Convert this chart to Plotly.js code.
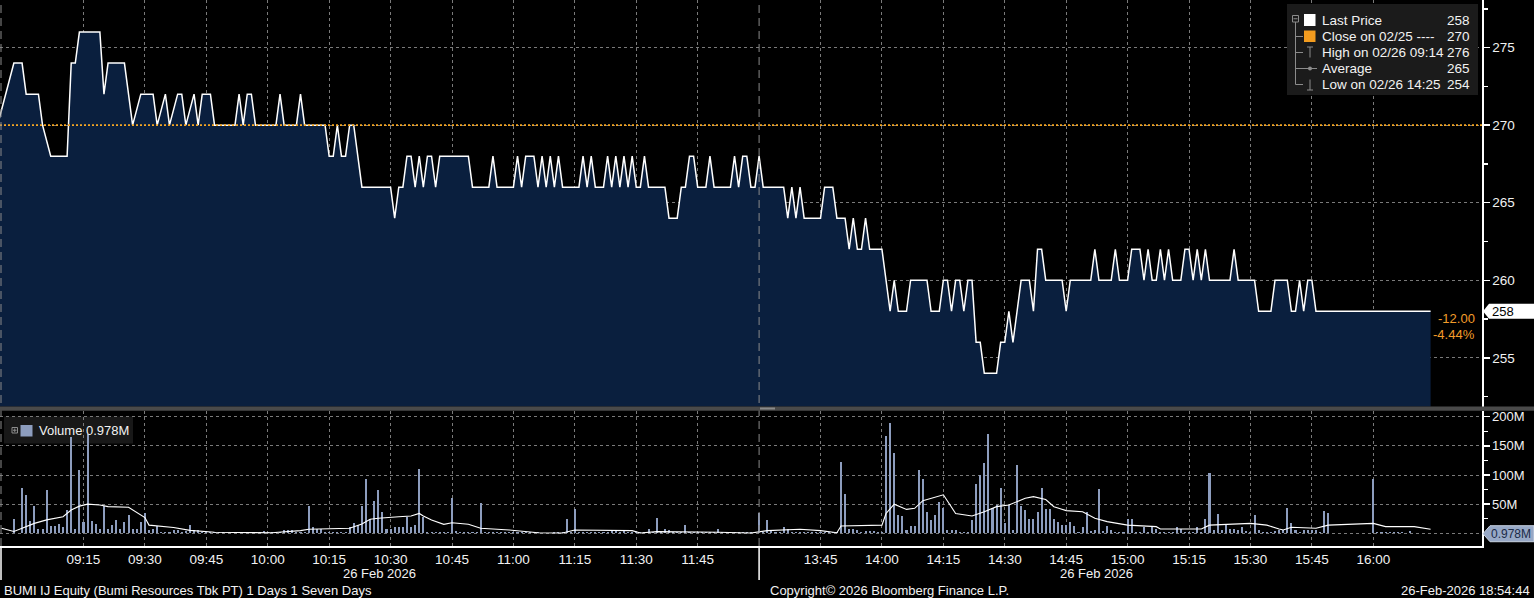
<!DOCTYPE html>
<html>
<head>
<meta charset="utf-8">
<script src="https://cdn.plot.ly/plotly-3.0.1.min.js"></script>
<style>
  html, body { margin: 0; padding: 0; background: #000; }
  #chart { width: 1534px; height: 598px; }
</style>
</head>
<body>
<div id="chart"></div>
<script>
// ---------------- DATA ----------------
const priceTimes = [
  "08:54","08:58","09:00","09:01","09:04","09:05","09:07","09:11","09:12","09:13",
  "09:14","09:19","09:20","09:21","09:25","09:27","09:29","09:32","09:33","09:35",
  "09:36","09:38","09:39","09:40","09:42","09:43","09:44","09:46","09:47","09:52",
  "09:53","09:54","09:55","09:56","09:57","10:02","10:03","10:04","10:07","10:08",
  "10:09","10:14","10:15","10:16","10:17","10:18","10:19","10:20","10:21","10:23",
  "10:30","10:31","10:32","10:33","10:34","10:35","10:36","10:37","10:38","10:39",
  "10:40","10:41","10:42","10:49","10:50","10:54","10:55","10:56","11:00","11:01",
  "11:02","11:03","11:05","11:06","11:07","11:08","11:09","11:10","11:11","11:12",
  "11:16","11:17","11:18","11:19","11:20","11:22","11:23","11:24","11:25","11:26",
  "11:27","11:28","11:29","11:30","11:31","11:32","11:33","11:37","11:38","11:40",
  "11:41","11:42","11:43","11:44","11:45","11:47","11:48","11:49","11:53","11:54",
  "11:55","11:56","11:57","11:58","11:59","13:30","13:31","13:36","13:37","13:38",
  "13:39","13:40","13:41","13:45","13:46","13:48","13:49","13:51","13:52","13:53",
  "13:54","13:55","13:56","13:57","14:00","14:02","14:03","14:04","14:06","14:07",
  "14:11","14:12","14:14","14:15","14:16","14:17","14:18","14:19","14:20","14:21",
  "14:22","14:23","14:24","14:25","14:28","14:29","14:30","14:31","14:32","14:34",
  "14:36","14:37","14:38","14:39","14:40","14:44","14:45","14:46","14:51","14:52",
  "14:53","14:56","14:57","14:58","15:00","15:01","15:03","15:04","15:05","15:06",
  "15:07","15:08","15:09","15:10","15:11","15:13","15:14","15:15","15:16","15:17",
  "15:18","15:19","15:20","15:25","15:26","15:27","15:31","15:32","15:35","15:36",
  "15:39","15:40","15:41","15:42","15:43","15:44","15:45","15:46","16:14"
];
const priceValues = [
  270,274,274,272,272,270,268,268,274,274,
  276,276,272,274,274,270,272,272,270,272,
  270,272,272,270,272,270,272,272,270,270,
  272,270,272,272,270,270,272,270,270,272,
  270,270,268,268,270,268,268,270,270,266,
  266,264,266,266,268,268,266,268,266,268,
  268,266,268,268,266,266,268,266,266,268,
  266,268,268,266,268,266,268,266,268,266,
  266,268,266,268,266,266,268,266,268,266,
  268,266,268,266,266,268,266,266,264,264,
  266,266,268,268,266,266,268,266,266,268,
  266,268,268,266,266,268,266,266,264,266,
  264,266,264,264,266,266,264,264,262,264,
  262,262,264,262,262,258,260,258,258,260,
  260,258,258,260,260,258,260,260,258,260,
  260,256,256,254,254,256,256,258,256,260,
  260,258,262,262,260,260,258,260,260,262,
  260,260,262,260,260,262,262,260,262,260,
  260,262,260,262,260,260,262,262,260,262,
  260,262,260,260,262,260,260,258,258,260,
  260,258,258,260,258,260,260,258,258
];

// Volume per minute, in millions (session 1 from 08:58, session 2 from 13:30)
const volSession1Start = "08:58";
const volSession1 = [
  24.5,0,
  77,66,21,47,7,7,74,13,13,16,
  11,40,165,8,108,19,170,21,16,7,
  46,7,14,23,7,20,31,7,7,20,
  35,5,8,13,3,3,3,5,5,3,
  4,14,5,5,3,3,2,2,2,2,
  1,1,1,1,1,1,1,1,2,4,
  2,2,3,2,5,5,6,3,3,3,
  47,10,8,8,3,3,3,3,3,3,
  10,17,15,46,94,24,56,74,36,8,
  8,11,11,11,28,11,14,110,28,3,
  3,3,3,2,2,60,4,2,2,2,
  2,2,52,2,2,2,2,2,2,2,
  2,2,2,2,2,2,2,1,1,1,
  2,2,3,24,3,42,3,2,2,2,
  2,2,2,3,5,5,2,5,2,2,
  2,2,3,7,3,27,3,8,5,2,
  2,3,15,2,2,2,2,2,2,2,
  8,2,2,2,2,2,2,2,2,3
];
const volSession2Start = "13:30";
const volSession2 = [
  34,3,23,4,3,3,11,7,3,2,
  2,2,2,2,2,2,2,2,2,2,
  123,67,7,7,5,2,4,4,4,2,
  3,167,190,138,31,30,5,12,12,109,
  94,36,23,31,53,43,5,5,5,2,
  2,3,23,85,100,121,170,43,48,77,
  17,48,5,117,46,40,24,24,36,77,
  42,42,24,20,14,14,20,12,3,10,
  36,4,5,76,4,13,6,2,2,2,
  24,24,3,2,10,3,10,8,3,3,
  3,3,10,8,3,3,3,11,3,24,
  103,5,33,5,14,8,8,5,10,4,
  3,31,5,3,3,3,4,5,5,43,
  17,5,3,6,5,5,5,3,38,34,
  0,0,0,0,0,0,0,0,0,0,
  94,2,1.5,1.5,1.5,1.5,1.5,3,0,4
];

// Volume average line (millions)
const volAvgTimes = [
  "08:55","08:58","09:00","09:03","09:06","09:10","09:12","09:14","09:16","09:19",
  "09:21","09:26","09:30","09:31","09:37","09:41","09:47","09:56","10:01","10:08",
  "10:10","10:20","10:23","10:25","10:27","10:32","10:35","10:37","10:38","10:40",
  "10:43","10:45","10:49","10:52","10:59","11:06","11:12","11:15","11:29","11:31",
  "11:35","11:50","11:58","13:32","13:40","13:45","13:49","13:50","14:00","14:01",
  "14:03","14:06","14:08","14:10","14:15","14:18","14:22","14:25","14:28","14:31",
  "14:35","14:37","14:40","14:42","14:45","14:49","14:52","14:55","15:00","15:07",
  "15:08","15:18","15:20","15:30","15:34","15:37","15:38","15:40","15:46","15:49",
  "16:00","16:03","16:10","16:14"
];
const volAvgValues = [
  8.6,3,8.6,17,23,28.5,40,46.6,50,48.5,
  45.7,44.6,27,14,10,5,1.7,0.5,1,4.6,
  6.9,8.6,16,24,25.7,28.5,29.7,34,29.7,22.9,
  15.4,18,15.4,8.6,5.7,1,0.5,5.7,4.6,0.5,
  2.9,1.7,0.5,4.6,7,4.6,1,12.6,14,34,
  50,41,42.9,56,66,34,29.7,37,45.7,48.6,
  60,62.9,58,45.7,38.9,37,25.7,20,14,11.4,
  7.4,7.4,14,17,14,7.4,5.7,10.3,8.6,14,
  17,11.4,11.4,7
];

const tickLabels = ["09:15","09:30","09:45","10:00","10:15","10:30","10:45","11:00","11:15","11:30","11:45",
                    "13:45","14:00","14:15","14:30","14:45","15:00","15:15","15:30","15:45","16:00"];
const volTickVals = [0, 50, 100, 150, 200];
const volTickText = ["", "50M", "100M", "150M", "200M"];

const closePrev = 270;          // Close on 02/25
const highVal = 276, highTime = "09:14";
const lowVal = 254, lowTime = "14:25";
const avgVal = 265;
const lastVolume = 0.978;       // M
const dateLabel = "26 Feb 2026";
const sessionBreak = "13:30";

// ---------------- helpers ----------------
// trading minutes since 09:00 with the lunch break (12:00-13:30) removed
function toX(t) {
  const [h, m] = t.split(":").map(Number);
  let v = h * 60 + m - 540;
  if (v >= 270) v -= 90;
  return v;
}
const PW = 1482, PH = 546;            // plot area in px
const px = v => v / PW;
const py = v => (PH - v) / PH;

const lastPrice = priceValues[priceValues.length - 1];
const chg = lastPrice - closePrev;
const chgPct = chg / closePrev * 100;

const volX = [], volY = [];
volSession1.forEach((v, i) => { volX.push(toX(volSession1Start) + i); volY.push(v); });
volSession2.forEach((v, i) => { volX.push(toX(volSession2Start) + i); volY.push(v); });

const FONT = 'Arial, "Liberation Sans", sans-serif';
const GRID = '#7a7a7a';
const GRIDDASH = '3px,3px';

// ---------------- traces ----------------
const traces = [
  {
    type: 'scatter', mode: 'lines',
    x: priceTimes.map(toX), y: priceValues,
    xaxis: 'x', yaxis: 'y',
    line: { color: '#ffffff', width: 1.5 },
    fill: 'tozeroy', fillcolor: '#0a1f3e',
    hoverinfo: 'skip'
  },
  {
    type: 'bar',
    x: volX, y: volY, width: 0.5,
    xaxis: 'x', yaxis: 'y2',
    marker: { color: '#8d9dbe', line: { width: 0 } },
    hoverinfo: 'skip'
  },
  {
    type: 'scatter', mode: 'lines',
    x: volAvgTimes.map(toX), y: volAvgValues,
    xaxis: 'x', yaxis: 'y2',
    line: { color: '#ffffff', width: 1.1 },
    hoverinfo: 'skip'
  }
];

// ---------------- shapes ----------------
const grey = '#8c8c8c';
const shapes = [];
// close line
shapes.push({ type: 'line', xref: 'paper', x0: 0, x1: 1, yref: 'y', y0: closePrev, y1: closePrev,
  line: { color: '#f5a623', width: 1.6, dash: '2px,2px' }, layer: 'above' });
// session separators (dashed)
shapes.push({ type: 'line', xref: 'x', x0: toX(sessionBreak), x1: toX(sessionBreak), yref: 'paper', y0: 0, y1: 1,
  line: { color: '#8a8a8a', width: 1, dash: '8px,5px' }, layer: 'above' });
shapes.push({ type: 'line', xref: 'paper', x0: px(1), x1: px(1), yref: 'paper', y0: 0, y1: 1,
  line: { color: '#8a8a8a', width: 1, dash: '8px,5px' }, layer: 'above' });
// solid white session lines below the axis
shapes.push({ type: 'line', xref: 'x', x0: toX(sessionBreak), x1: toX(sessionBreak), yref: 'paper', y0: py(580), y1: 0,
  line: { color: '#ffffff', width: 1.5 } });
shapes.push({ type: 'line', xref: 'paper', x0: px(1), x1: px(1), yref: 'paper', y0: py(580), y1: 0,
  line: { color: '#ffffff', width: 1.5 } });
// separator between panels
shapes.push({ type: 'rect', xref: 'paper', x0: 0, x1: px(1534), yref: 'paper', y0: py(410.8), y1: py(406.5),
  fillcolor: '#4a4a4a', line: { width: 0 }, layer: 'above' });
shapes.push({ type: 'rect', xref: 'paper', x0: px(760), x1: px(775), yref: 'paper', y0: py(409.5), y1: py(407.5),
  fillcolor: '#8a8a8a', line: { width: 0 }, layer: 'above' });

// price legend box
shapes.push({ type: 'rect', xref: 'paper', x0: px(1287), x1: px(1478), yref: 'paper', y0: py(95), y1: py(4),
  fillcolor: '#1b1b1b', line: { width: 0 }, layer: 'above' });
const rowsY = [20.5, 36.5, 52.5, 68.5, 84.5];
// tree lines
shapes.push({ type: 'line', xref: 'paper', yref: 'paper', x0: px(1295.5), x1: px(1295.5), y0: py(22), y1: py(rowsY[4]),
  line: { color: grey, width: 1 }, layer: 'above' });
[1, 2, 3, 4].forEach(i => shapes.push({ type: 'line', xref: 'paper', yref: 'paper', x0: px(1295.5), x1: px(1303),
  y0: py(rowsY[i]), y1: py(rowsY[i]), line: { color: grey, width: 1 }, layer: 'above' }));
// collapse box icon
shapes.push({ type: 'rect', xref: 'paper', yref: 'paper', x0: px(1292.5), x1: px(1298.5), y0: py(22), y1: py(15.5),
  fillcolor: '#1b1b1b', line: { color: grey, width: 1 }, layer: 'above' });
shapes.push({ type: 'line', xref: 'paper', yref: 'paper', x0: px(1293.5), x1: px(1297.5), y0: py(18.75), y1: py(18.75),
  line: { color: grey, width: 1 }, layer: 'above' });
// white + orange squares
shapes.push({ type: 'rect', xref: 'paper', yref: 'paper', x0: px(1304), x1: px(1315.5), y0: py(26), y1: py(14),
  fillcolor: '#ffffff', line: { width: 0 }, layer: 'above' });
shapes.push({ type: 'rect', xref: 'paper', yref: 'paper', x0: px(1304), x1: px(1315.5), y0: py(42), y1: py(30.5),
  fillcolor: '#f39c1f', line: { width: 0 }, layer: 'above' });
// high icon
shapes.push({ type: 'line', xref: 'paper', yref: 'paper', x0: px(1310), x1: px(1310), y0: py(57.5), y1: py(47),
  line: { color: grey, width: 1 }, layer: 'above' });
shapes.push({ type: 'line', xref: 'paper', yref: 'paper', x0: px(1307), x1: px(1313), y0: py(47), y1: py(47),
  line: { color: grey, width: 1 }, layer: 'above' });
// average icon
shapes.push({ type: 'line', xref: 'paper', yref: 'paper', x0: px(1303), x1: px(1317), y0: py(rowsY[3]), y1: py(rowsY[3]),
  line: { color: grey, width: 1 }, layer: 'above' });
shapes.push({ type: 'circle', xref: 'paper', yref: 'paper', x0: px(1308), x1: px(1312), y0: py(70.5), y1: py(66.5),
  fillcolor: grey, line: { width: 0 }, layer: 'above' });
// low icon
shapes.push({ type: 'line', xref: 'paper', yref: 'paper', x0: px(1310), x1: px(1310), y0: py(90), y1: py(79.5),
  line: { color: grey, width: 1 }, layer: 'above' });
shapes.push({ type: 'line', xref: 'paper', yref: 'paper', x0: px(1307), x1: px(1313), y0: py(90), y1: py(90),
  line: { color: grey, width: 1 }, layer: 'above' });

// volume legend box
shapes.push({ type: 'rect', xref: 'paper', yref: 'paper', x0: px(4), x1: px(133), y0: py(443.5), y1: py(416.5),
  fillcolor: 'rgba(28,28,28,0.85)', line: { width: 0 }, layer: 'between' });
shapes.push({ type: 'rect', xref: 'paper', yref: 'paper', x0: px(12), x1: px(17.5), y0: py(433), y1: py(427.5),
  fillcolor: 'rgba(0,0,0,0)', line: { color: grey, width: 1 }, layer: 'above' });
shapes.push({ type: 'line', xref: 'paper', yref: 'paper', x0: px(13), x1: px(16.5), y0: py(430.25), y1: py(430.25),
  line: { color: grey, width: 1 }, layer: 'above' });
shapes.push({ type: 'line', xref: 'paper', yref: 'paper', x0: px(14.75), x1: px(14.75), y0: py(432), y1: py(428.5),
  line: { color: grey, width: 1 }, layer: 'above' });
shapes.push({ type: 'rect', xref: 'paper', yref: 'paper', x0: px(20.5), x1: px(32.5), y0: py(436.5), y1: py(425),
  fillcolor: '#8d9dbe', line: { width: 0 }, layer: 'above' });

// last price tag
shapes.push({ type: 'path', xref: 'paper', xsizemode: 'pixel', xanchor: 1,
  yref: 'y', ysizemode: 'pixel', yanchor: lastPrice,
  path: 'M 1 0 L 7 -7.5 L 52 -7.5 L 52 7.5 L 7 7.5 Z',
  fillcolor: '#ffffff', line: { width: 0 }, layer: 'above' });
// last volume tag
shapes.push({ type: 'path', xref: 'paper', xsizemode: 'pixel', xanchor: 1,
  yref: 'y2', ysizemode: 'pixel', yanchor: lastVolume,
  path: 'M 1 -1 L 8 -9 L 52 -9 L 52 7 L 8 7 Z',
  fillcolor: '#97a8c6', line: { color: '#c8d2e2', width: 1 }, layer: 'above' });

// ---------------- annotations ----------------
const WHITE = '#f2f2f2';
const ann = [];
const legendRows = [
  { label: 'Last Price', value: lastPrice },
  { label: 'Close on 02/25 ----', value: closePrev },
  { label: 'High on 02/26 ' + highTime, value: highVal },
  { label: 'Average', value: avgVal },
  { label: 'Low on 02/26 ' + lowTime, value: lowVal }
];
legendRows.forEach((r, i) => {
  ann.push({ xref: 'paper', yref: 'paper', x: px(1320), y: py(rowsY[i]), xanchor: 'left', yanchor: 'middle',
    text: r.label, showarrow: false, font: { family: FONT, size: 13.5, color: WHITE } });
  ann.push({ xref: 'paper', yref: 'paper', x: px(1472), y: py(rowsY[i]), xanchor: 'right', yanchor: 'middle',
    text: String(r.value), showarrow: false, font: { family: FONT, size: 13.5, color: WHITE } });
});
ann.push({ xref: 'paper', yref: 'paper', x: px(36.5), y: py(430.5), xanchor: 'left', yanchor: 'middle',
  text: 'Volume ' + lastVolume.toFixed(3) + 'M', showarrow: false, font: { family: FONT, size: 13, color: WHITE } });
// last price label
ann.push({ xref: 'paper', x: 1, xanchor: 'left', xshift: 8, yref: 'y', y: lastPrice, yanchor: 'middle',
  text: String(lastPrice), showarrow: false, font: { family: FONT, size: 13, color: '#000000' } });
ann.push({ xref: 'paper', x: px(1477), xanchor: 'right', yref: 'y', y: lastPrice, yanchor: 'middle', yshift: -7.5,
  text: chg.toFixed(2), showarrow: false, font: { family: FONT, size: 13, color: '#f39c2a' } });
ann.push({ xref: 'paper', x: px(1477), xanchor: 'right', yref: 'y', y: lastPrice, yanchor: 'middle', yshift: -23.5,
  text: chgPct.toFixed(2) + '%', showarrow: false, font: { family: FONT, size: 13, color: '#f39c2a' } });
// last volume label
ann.push({ xref: 'paper', x: 1, xanchor: 'left', xshift: 7, yref: 'y2', y: lastVolume, yanchor: 'middle', yshift: -1,
  text: lastVolume.toFixed(3) + 'M', showarrow: false, font: { family: FONT, size: 12, color: '#1a2a46' } });
// date labels
ann.push({ xref: 'paper', yref: 'paper', x: px(379.5), y: py(573), xanchor: 'center', yanchor: 'middle',
  text: dateLabel, showarrow: false, font: { family: FONT, size: 13, color: WHITE } });
ann.push({ xref: 'paper', yref: 'paper', x: px(1096.5), y: py(573), xanchor: 'center', yanchor: 'middle',
  text: dateLabel, showarrow: false, font: { family: FONT, size: 13, color: WHITE } });
// footer
ann.push({ xref: 'paper', yref: 'paper', x: px(2), y: py(590), xanchor: 'left', yanchor: 'middle',
  text: 'BUMI IJ Equity (Bumi Resources Tbk PT) 1 Days 1 Seven Days', showarrow: false,
  font: { family: FONT, size: 13, color: WHITE } });
ann.push({ xref: 'paper', yref: 'paper', x: px(768), y: py(590), xanchor: 'left', yanchor: 'middle',
  text: 'Copyright\u00A9 2026 Bloomberg Finance L.P.', showarrow: false,
  font: { family: FONT, size: 13, color: WHITE } });
ann.push({ xref: 'paper', yref: 'paper', x: px(1532), y: py(590), xanchor: 'right', yanchor: 'middle',
  text: '26-Feb-2026 18:54:44', showarrow: false, font: { family: FONT, size: 13, color: WHITE } });

// ---------------- layout ----------------
const layout = {
  width: 1534, height: 598,
  margin: { l: 0, r: 52, t: 0, b: 52, pad: 0 },
  paper_bgcolor: '#000000', plot_bgcolor: '#000000',
  showlegend: false, bargap: 0,
  font: { family: FONT, size: 13, color: WHITE },
  xaxis: {
    range: [-5.39, 356.55], anchor: 'y2',
    tickmode: 'array', tickvals: tickLabels.map(toX), ticktext: tickLabels,
    showgrid: true, gridcolor: GRID, griddash: GRIDDASH, gridwidth: 1,
    showline: true, linecolor: '#ffffff', linewidth: 2,
    ticks: '', zeroline: false,
    tickfont: { family: FONT, size: 13.5, color: WHITE },
    fixedrange: true
  },
  yaxis: {
    domain: [py(406.5), 1], range: [251.86, 278.07], anchor: 'x', side: 'right',
    tickmode: 'linear', tick0: 0, dtick: 5,
    showgrid: true, gridcolor: GRID, griddash: GRIDDASH, gridwidth: 1,
    zeroline: false, showline: true, linecolor: '#ffffff', linewidth: 1.5,
    ticks: 'outside', ticklen: 6, tickcolor: '#ffffff', tickwidth: 1.5,
    minor: { tickmode: 'linear', tick0: 0, dtick: 2.5, ticks: 'outside', ticklen: 4, tickcolor: '#ffffff', showgrid: false },
    tickfont: { family: FONT, size: 13.5, color: WHITE },
    fixedrange: true
  },
  yaxis2: {
    domain: [0, py(411)], range: [-21.8, 209.8], anchor: 'x', side: 'right',
    tickmode: 'array', tickvals: volTickVals, ticktext: volTickText,
    showgrid: true, gridcolor: GRID, griddash: GRIDDASH, gridwidth: 1,
    zeroline: false, showline: true, linecolor: '#ffffff', linewidth: 1.5,
    ticks: 'outside', ticklen: 6, tickcolor: '#ffffff', tickwidth: 1.5,
    minor: { tickmode: 'linear', tick0: 0, dtick: 25, ticks: 'outside', ticklen: 4, tickcolor: '#ffffff', showgrid: false },
    tickfont: { family: FONT, size: 13, color: WHITE },
    fixedrange: true
  },
  shapes: shapes,
  annotations: ann
};

Plotly.newPlot('chart', traces, layout, { displayModeBar: false, staticPlot: true });
</script>
</body>
</html>
